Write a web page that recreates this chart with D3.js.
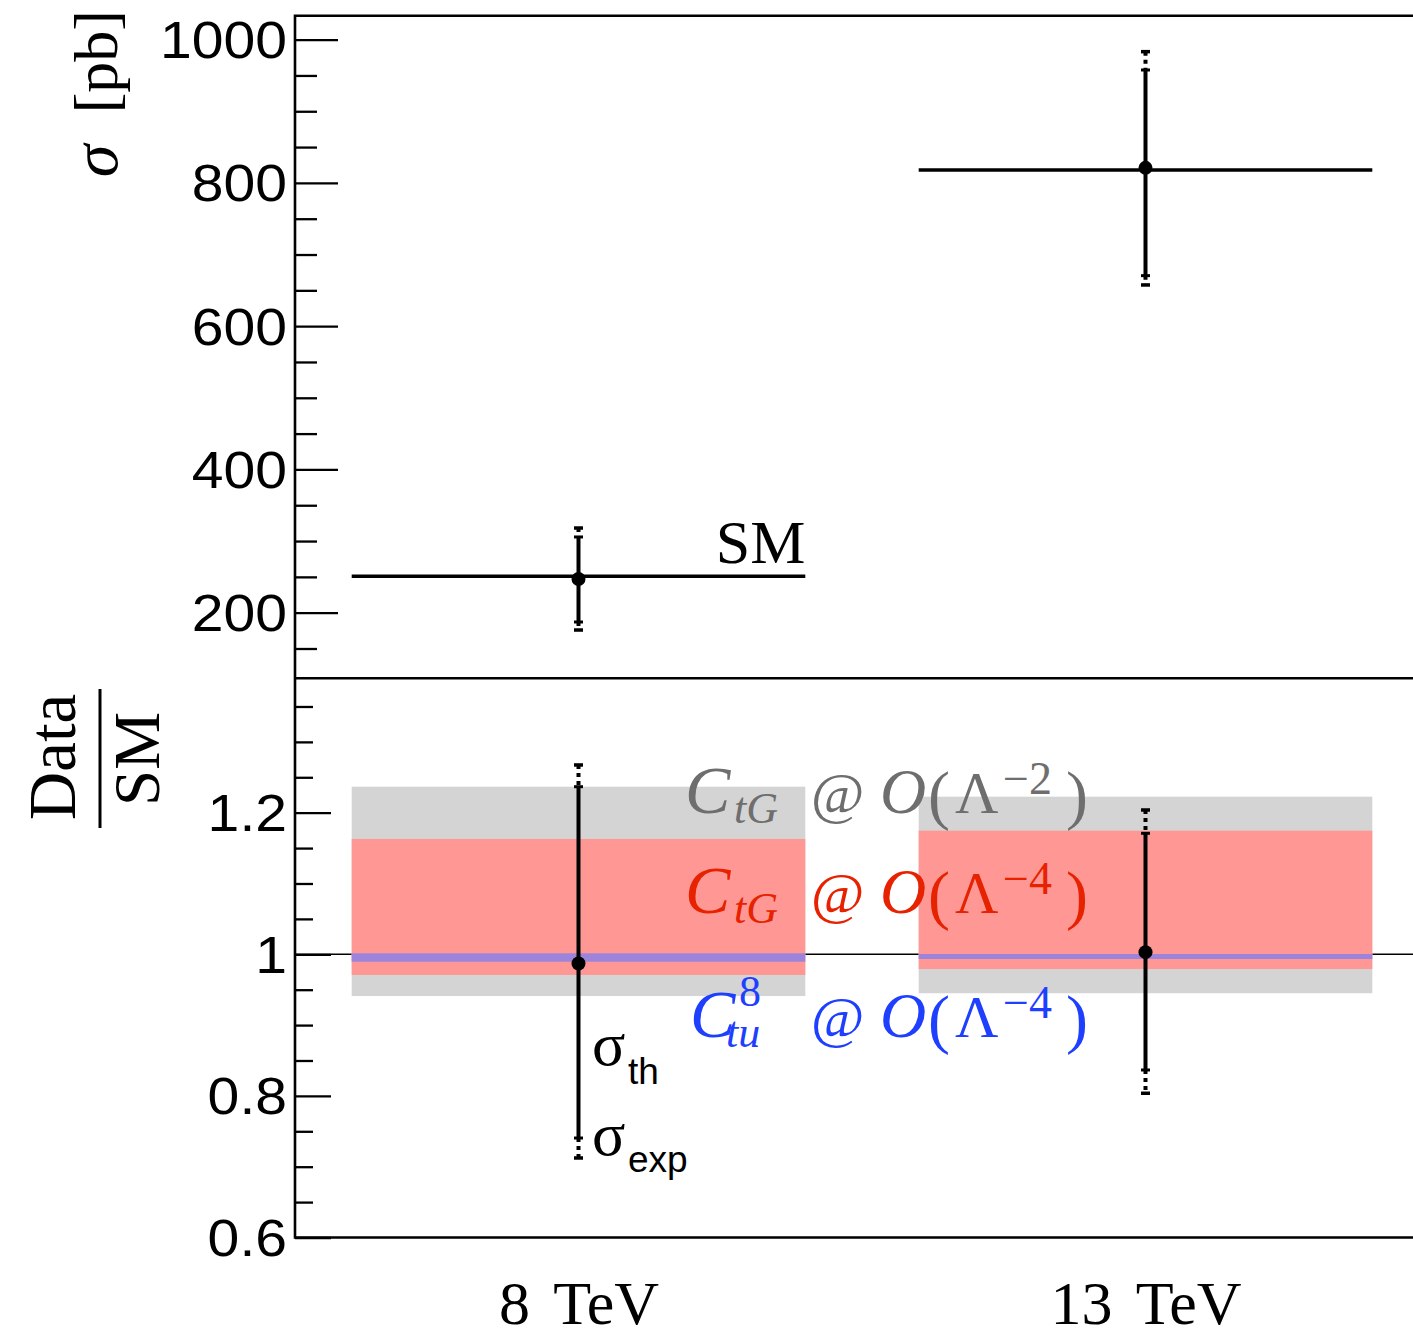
<!DOCTYPE html>
<html>
<head>
<meta charset="utf-8">
<script src="https://cdn.jsdelivr.net/npm/d3@7"></script>
<style>
  html, body { margin: 0; padding: 0; background: #fff; }
  svg { display: block; }
</style>
</head>
<body>
<svg id="chart" width="1413" height="1337"></svg>
<script>
// ---------------- data ----------------
const categories = ["8 TeV", "13 TeV"];
const binCenter = [0.5, 1.5];
const binLo = [0.1, 1.1];
const binHi = [0.9, 1.9];

// top panel: cross sections [pb]
const smXsec    = [251, 818];
const dataXsec  = [247, 821];
const xsecThLo  = [187, 670.5];
const xsecThHi  = [305.7, 957.6];
const xsecExpLo = [175.8, 657.5];
const xsecExpHi = [318.2, 983.2];

// bottom panel: Data / SM
const ratioVal   = [0.987, 1.003];
const ratioThLo  = [0.7405, 0.8366];
const ratioThHi  = [1.2367, 1.1709];
const ratioExpLo = [0.7123, 0.8037];
const ratioExpHi = [1.2674, 1.2038];

// bands
const bandCtG2Lo = [0.941, 0.945];
const bandCtG2Hi = [1.2367, 1.2226];
const bandCtG4Lo = [0.9708, 0.9792];
const bandCtG4Hi = [1.1629, 1.1746];
const bandCtuLo  = [0.9895, 0.9934];
const bandCtuHi  = [1.0014, 1.0004];

// ticks
const topMajor = [200, 400, 600, 800, 1000];
const topMinor = d3.range(150, 1001, 50).filter(v => v % 200 !== 0);
const botMajor = [0.6, 0.8, 1, 1.2];
const botMinor = d3.range(0.65, 1.39, 0.05).map(v => +v.toFixed(2)).filter(v => ![0.6,0.8,1,1.2].includes(v));

// ---------------- layout ----------------
const svg = d3.select("#chart");
const X0 = 295;
const x = d3.scaleLinear().domain([0, 2]).range([X0, 1429]);
const yTop = d3.scaleLinear().domain([108.4, 1033.4]).range([678.3, 15.7]);
const yBot = d3.scaleLinear().domain([0.6, 1.3898]).range([1237.5, 678.3]);

const serif = "'Liberation Serif', 'Times New Roman', serif";
const sans = "'Liberation Sans', Arial, Helvetica, sans-serif";

// ---------------- bottom panel bands ----------------
svg.append("line")
  .attr("x1", X0).attr("x2", 1413)
  .attr("y1", yBot(1)).attr("y2", yBot(1))
  .attr("stroke", "#000").attr("stroke-width", 1.6);

function bands(lo, hi, color) {
  svg.append("g").selectAll("rect").data(categories).join("rect")
    .attr("x", (d, i) => x(binLo[i]))
    .attr("width", (d, i) => x(binHi[i]) - x(binLo[i]))
    .attr("y", (d, i) => yBot(hi[i]))
    .attr("height", (d, i) => yBot(lo[i]) - yBot(hi[i]))
    .attr("fill", color);
}
bands(bandCtG2Lo, bandCtG2Hi, "#d4d4d4");
bands(bandCtG4Lo, bandCtG4Hi, "#ff9894");
bands(bandCtuLo, bandCtuHi, "#9c83dc");

// ---------------- error bars ----------------
function errorBars(yScale, vals, thLo, thHi, expLo, expHi) {
  const g = svg.append("g");
  categories.forEach((c, i) => {
    const cx = x(binCenter[i]);
    // outer (exp) dashed extensions beyond the th range
    [[expHi[i], thHi[i]], [thLo[i], expLo[i]]].forEach(([a, b]) => {
      g.append("line")
        .attr("x1", cx).attr("x2", cx)
        .attr("y1", yScale(a)).attr("y2", yScale(b))
        .attr("stroke", "#000").attr("stroke-width", 4)
        .attr("stroke-dasharray", "4,4");
    });
    [expHi[i], expLo[i]].forEach(v => {
      g.append("line").attr("x1", cx - 4.5).attr("x2", cx + 4.5)
        .attr("y1", yScale(v)).attr("y2", yScale(v))
        .attr("stroke", "#000").attr("stroke-width", 3.5);
    });
    g.append("line")
      .attr("x1", cx).attr("x2", cx)
      .attr("y1", yScale(thHi[i])).attr("y2", yScale(thLo[i]))
      .attr("stroke", "#000").attr("stroke-width", 4);
    [thHi[i], thLo[i]].forEach(v => {
      g.append("line").attr("x1", cx - 4.5).attr("x2", cx + 4.5)
        .attr("y1", yScale(v)).attr("y2", yScale(v))
        .attr("stroke", "#000").attr("stroke-width", 3);
    });
    g.append("circle").attr("cx", cx).attr("cy", yScale(vals[i]))
      .attr("r", 7).attr("fill", "#000");
  });
}

svg.append("g").selectAll("line").data(smXsec).join("line")
  .attr("x1", (d, i) => x(binLo[i]))
  .attr("x2", (d, i) => x(binHi[i]))
  .attr("y1", d => yTop(d)).attr("y2", d => yTop(d))
  .attr("stroke", "#000").attr("stroke-width", 3.5);

errorBars(yTop, dataXsec, xsecThLo, xsecThHi, xsecExpLo, xsecExpHi);
errorBars(yBot, ratioVal, ratioThLo, ratioThHi, ratioExpLo, ratioExpHi);

// ---------------- axes ----------------
function styleAxis(g) {
  g.select(".domain").remove();
  g.selectAll(".tick line").attr("stroke", "#000").attr("stroke-width", 2.3);
}
const lblScale = 1.12;
function yAxis(scale, major, minor, majLen, minLen, fmt) {
  const gMin = svg.append("g").attr("transform", `translate(${X0},0)`)
    .call(d3.axisLeft(scale).tickValues(minor).tickSize(-minLen).tickFormat(""));
  styleAxis(gMin);
  const gMaj = svg.append("g").attr("transform", `translate(${X0},0)`)
    .call(d3.axisLeft(scale).tickValues(major).tickSize(-majLen).tickPadding(8).tickFormat(fmt));
  styleAxis(gMaj);
  gMaj.selectAll(".tick text")
    .attr("font-family", sans).attr("font-size", 51).attr("fill", "#000")
    .attr("x", -8 / lblScale).attr("dy", "0.35em")
    .attr("transform", `scale(${lblScale},1)`);
}
yAxis(yTop, topMajor, topMinor, 43, 22, d3.format("d"));
yAxis(yBot, botMajor, botMinor, 36, 18, d => d === 1 ? "1" : d.toFixed(1));

// x labels
const gx = svg.append("g").attr("transform", `translate(0,${yBot(0.6)})`)
  .call(d3.axisBottom(x).tickValues(binCenter).tickSize(0)
    .tickFormat((d, i) => categories[i]));
gx.select(".domain").remove();
gx.selectAll(".tick text")
  .attr("font-family", serif).attr("font-size", 62).attr("fill", "#000")
  .attr("y", 86).attr("dy", 0).attr("word-spacing", 9);

// ---------------- frames ----------------
const frame = svg.append("g").attr("stroke", "#000").attr("stroke-width", 2.6).attr("fill", "none");
frame.append("path").attr("d", `M1413,${yTop.range()[1]}H${X0}V${yBot.range()[0]}H1413`);
frame.append("line").attr("x1", X0).attr("x2", 1413)
  .attr("y1", yTop.range()[0]).attr("y2", yTop.range()[0]);

// ---------------- axis titles ----------------
const t1 = svg.append("text")
  .attr("transform", "translate(117,10) rotate(-90)")
  .attr("text-anchor", "end")
  .attr("font-family", serif).attr("font-size", 62).attr("fill", "#000")
  .attr("word-spacing", 16);
t1.append("tspan").attr("font-style", "italic").attr("font-size", 66).text("σ");
t1.append("tspan").text(" [pb]");

svg.append("text")
  .attr("transform", "translate(75,757) rotate(-90)")
  .attr("text-anchor", "middle")
  .attr("font-family", serif).attr("font-size", 67).attr("fill", "#000")
  .text("Data");
svg.append("line").attr("x1", 100).attr("x2", 100).attr("y1", 689).attr("y2", 828)
  .attr("stroke", "#000").attr("stroke-width", 3);
svg.append("text")
  .attr("transform", "translate(159,759) rotate(-90)")
  .attr("text-anchor", "middle")
  .attr("font-family", serif).attr("font-size", 65).attr("fill", "#000")
  .text("SM");

// SM label
svg.append("text")
  .attr("x", x(binHi[0])).attr("y", 563)
  .attr("text-anchor", "end")
  .attr("font-family", serif).attr("font-size", 62).attr("fill", "#000")
  .text("SM");

// sigma labels
function sigmaLabel(yBase, sub, subBase) {
  svg.append("text").attr("x", 592).attr("y", yBase)
    .attr("font-family", serif).attr("font-size", 62).attr("fill", "#000").text("σ");
  svg.append("text").attr("x", 628).attr("y", subBase)
    .attr("font-family", sans).attr("font-size", 37).attr("fill", "#000").text(sub);
}
sigmaLabel(1065, "th", 1084);
sigmaLabel(1155, "exp", 1172);

// ---------------- legend texts ----------------
function legendLine(base, color, parts) {
  const g = svg.append("g").attr("fill", color).attr("font-family", serif);
  parts.forEach(p => {
    g.append("text").attr("x", p.x).attr("y", base + (p.dy || 0))
      .attr("font-size", p.size || 60)
      .attr("font-style", p.it ? "italic" : "normal")
      .text(p.t);
  });
}
function stdParts(cx, subTxt, subX, supTxt) {
  return [
    { t: "C", x: cx, it: true, size: 68 },
    { t: subTxt, x: subX, it: true, size: 44, dy: 10 },
    { t: "@", x: 811, size: 58 },
    { t: "O", x: 880, it: true, size: 64 },
    { t: "(", x: 928, size: 66, dy: 4 },
    { t: "Λ", x: 955, size: 60 },
    { t: supTxt, x: 1003, size: 46, dy: -19 },
    { t: ")", x: 1066, size: 66, dy: 4 }
  ];
}
legendLine(813, "#6e6e6e", stdParts(685, "tG", 734, "−2"));
legendLine(913, "#e62200", stdParts(685, "tG", 734, "−4"));
legendLine(1037, "#1f3fff", stdParts(690, "tu", 726, "−4").concat([{ t: "8", x: 739, size: 44, dy: -31 }]));
</script>
</body>
</html>
